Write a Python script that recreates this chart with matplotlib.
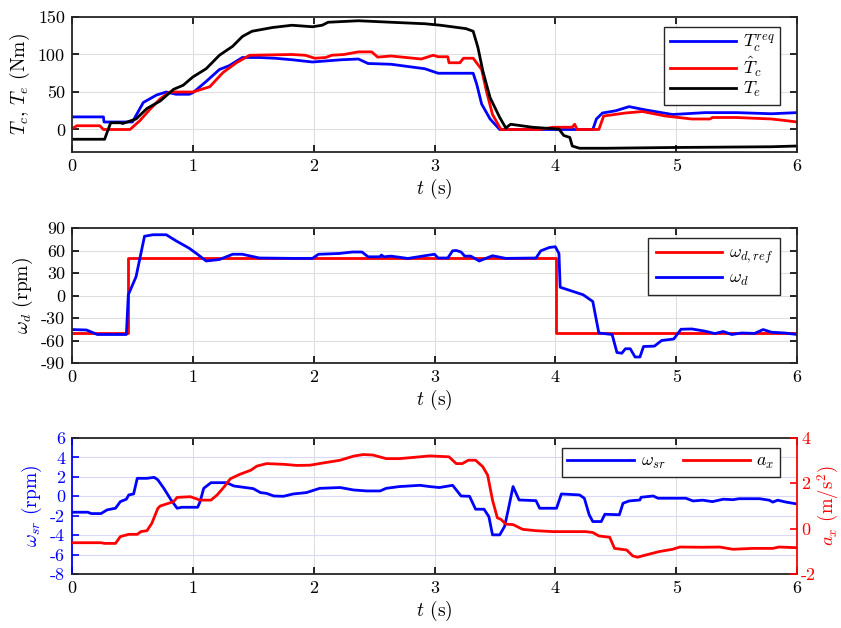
import matplotlib
matplotlib.use("Agg")
import matplotlib.pyplot as plt
from matplotlib.lines import Line2D

plt.rcParams['font.family'] = 'serif'
plt.rcParams['font.serif'] = ['cmr10']
plt.rcParams['mathtext.fontset'] = 'cm'
plt.rcParams['axes.unicode_minus'] = False
plt.rcParams['axes.formatter.use_mathtext'] = False

# ---- panel 1 : torques (Nm) ----
t_creq = [0, 0.26, 0.265, 0.50, 0.59, 0.70, 0.78, 0.86, 0.97, 1.0, 1.11, 1.22, 1.30, 1.41, 1.55, 1.68,
          1.82, 1.99, 2.23, 2.37, 2.45, 2.64, 2.78, 2.92, 3.03, 3.32, 3.35, 3.39, 3.46, 3.54, 4.31, 4.34,
          4.39, 4.50, 4.61, 4.75, 4.97, 5.24, 5.50, 5.79, 6.0]
T_creq = [16.8, 16.8, 10, 10, 36, 46, 50, 47, 47, 49, 64, 80, 85, 96, 96, 95,
          93, 90, 93, 94, 88, 87, 84, 81, 75, 75, 60, 34, 14, 0, 0, 14,
          22, 25, 30.5, 26, 20, 22.5, 22.5, 21, 22.5]

t_chat = [0, 0.04, 0.23, 0.26, 0.48, 0.56, 0.64, 0.73, 0.81, 1.0, 1.14, 1.25, 1.36, 1.47, 1.82, 1.93,
          2.01, 2.10, 2.15, 2.25, 2.37, 2.48, 2.53, 2.64, 2.89, 2.99, 3.03, 3.11, 3.12, 3.21, 3.24, 3.32,
          3.39, 3.43, 3.48, 3.55, 3.87, 3.98, 4.14, 4.16, 4.18, 4.36, 4.40, 4.58, 4.72, 4.91, 5.13, 5.28,
          5.30, 5.50, 5.79, 5.90, 6.0]
T_chat = [1, 5, 5, 0, 0, 11.5, 26, 41, 50, 50, 57, 76, 89, 99, 100, 99,
          95, 96, 99, 100, 103.5, 103.5, 96.5, 98, 94, 99, 97, 97, 89, 89, 95, 95,
          80, 51, 20, 0, 0, 3, 3, 7, 0, 0, 18, 22, 24, 18, 14, 14,
          16, 16, 14, 12, 10]

t_e = [0, 0.27, 0.29, 0.32, 0.40, 0.42, 0.53, 0.62, 0.73, 0.84, 0.92, 1.0, 1.11, 1.22, 1.33, 1.41,
       1.49, 1.66, 1.82, 1.99, 2.07, 2.12, 2.37, 2.64, 2.92, 3.05, 3.26, 3.32, 3.36, 3.40, 3.46, 3.54,
       3.59, 3.63, 3.81, 4.03, 4.07, 4.12, 4.14, 4.20, 4.42, 4.97, 5.79, 6.0]
T_e = [-13, -13, -4, 9, 9, 8, 14, 28, 38, 53.5, 59, 70, 81, 99, 111, 124,
       131, 136, 139, 137, 139, 143, 145, 143, 141, 139, 134.5, 131, 109, 78, 42.5, 16,
       2, 7, 3, 0.5, -8, -10.6, -22, -25, -25, -24, -23, -22]

# ---- panel 2 : differential speed (rpm) ----
t_dref = [0, 0.466, 0.466, 4.005, 4.005, 6.0]
w_dref = [-50, -50, 50, 50, -50, -50]

t_d = [0, 0.12, 0.21, 0.45, 0.466, 0.53, 0.60, 0.67, 0.78, 0.86, 0.97, 1.03, 1.11, 1.22, 1.33, 1.41,
       1.55, 1.82, 1.99, 2.04, 2.21, 2.32, 2.40, 2.45, 2.55, 2.56, 2.58, 2.64, 2.78, 2.92, 3.0, 3.03,
       3.11, 3.15, 3.18, 3.22, 3.25, 3.30, 3.37, 3.48, 3.59, 3.84, 3.88, 3.95, 4.0, 4.03, 4.04, 4.23,
       4.31, 4.36, 4.47, 4.51, 4.55, 4.58, 4.62, 4.66, 4.70, 4.73, 4.82, 4.88, 4.98, 5.04, 5.13, 5.24,
       5.32, 5.39, 5.46, 5.54, 5.65, 5.72, 5.79, 5.90, 6.0]
w_d = [-45.4, -46, -52, -52, 1, 25, 79, 81, 81, 73, 63, 56, 46, 48, 55, 55,
       50, 49.5, 49.5, 55, 56, 58, 58, 51.6, 51.6, 54, 51.6, 52.5, 49.4, 53, 55, 50,
       50, 59.6, 60, 58, 52.5, 52.5, 46, 53, 49.5, 50, 59.6, 64, 65, 56, 11, 1,
       -8, -50, -52, -76, -77, -71, -71, -82, -82, -68, -67.5, -60, -58, -45, -44.6, -47.6,
       -50.7, -48, -52, -50, -50.5, -45.4, -49, -50, -52]

# ---- panel 3 : slip speed (rpm) and acceleration (m/s^2) ----
t_sr = [0, 0.13, 0.16, 0.24, 0.29, 0.36, 0.40, 0.45, 0.47, 0.51, 0.54, 0.62, 0.68, 0.71, 0.76, 0.82,
        0.87, 0.91, 1.04, 1.06, 1.09, 1.15, 1.28, 1.34, 1.50, 1.56, 1.61, 1.67, 1.75, 1.83, 1.94, 2.05,
        2.22, 2.33, 2.44, 2.55, 2.60, 2.71, 2.88, 2.96, 3.04, 3.15, 3.22, 3.29, 3.34, 3.41, 3.45, 3.48,
        3.54, 3.58, 3.61, 3.65, 3.70, 3.84, 3.87, 4.01, 4.05, 4.20, 4.24, 4.28, 4.31, 4.38, 4.41, 4.53,
        4.56, 4.61, 4.70, 4.71, 4.81, 4.85, 5.08, 5.14, 5.22, 5.30, 5.39, 5.47, 5.52, 5.69, 5.77, 5.80,
        5.84, 5.91, 6.0]
w_sr = [-1.64, -1.64, -1.78, -1.78, -1.4, -1.23, -0.55, -0.3, 0.14, 0.24, 1.85, 1.85, 1.95, 1.7, 0.82, -0.38,
        -1.23, -1.13, -1.13, -0.55, 0.82, 1.4, 1.4, 1.06, 0.79, 0.38, 0.3, 0.03, 0.0, 0.24, 0.38, 0.82,
        0.9, 0.65, 0.55, 0.55, 0.82, 1.0, 1.13, 1.0, 0.9, 1.13, 0.03, 0.0, -1.33, -1.33, -2.1, -3.97,
        -3.97, -3.1, -1.4, 1.0, -0.38, -0.45, -1.23, -1.23, 0.24, 0.14, -0.2, -1.9, -2.6, -2.6, -1.85, -1.9,
        -0.72, -0.48, -0.38, -0.1, 0.03, -0.2, -0.2, -0.48, -0.4, -0.55, -0.3, -0.35, -0.25, -0.25, -0.4, -0.6,
        -0.4, -0.6, -0.79]

t_ax = [0, 0.24, 0.27, 0.36, 0.40, 0.47, 0.54, 0.57, 0.62, 0.66, 0.71, 0.73, 0.84, 0.87, 0.98, 1.06,
        1.15, 1.20, 1.26, 1.31, 1.39, 1.48, 1.53, 1.61, 1.75, 1.86, 1.97, 2.08, 2.22, 2.33, 2.41, 2.49,
        2.60, 2.71, 2.88, 2.96, 3.12, 3.18, 3.23, 3.28, 3.34, 3.40, 3.44, 3.48, 3.52, 3.55, 3.59, 3.65,
        3.73, 3.84, 3.98, 4.25, 4.31, 4.36, 4.45, 4.49, 4.59, 4.64, 4.68, 4.75, 4.86, 4.97, 5.03, 5.22,
        5.36, 5.47, 5.63, 5.80, 5.85, 6.0]
a_x = [-0.62, -0.62, -0.65, -0.65, -0.35, -0.25, -0.25, -0.13, -0.09, 0.23, 0.89, 1.0, 1.19, 1.38, 1.41, 1.26,
       1.26, 1.48, 1.85, 2.2, 2.4, 2.58, 2.76, 2.87, 2.84, 2.79, 2.8, 2.9, 3.02, 3.2, 3.27, 3.25,
       3.09, 3.09, 3.17, 3.21, 3.17, 2.87, 2.87, 3.02, 3.02, 2.73, 2.36, 1.26, 0.48, 0.41, 0.2, 0.18,
       -0.03, -0.09, -0.13, -0.13, -0.17, -0.32, -0.38, -0.87, -0.94, -1.2, -1.26, -1.16, -1.01, -0.91, -0.81, -0.82,
       -0.81, -0.91, -0.87, -0.87, -0.81, -0.84]

W, H = 841, 628
fig = plt.figure(figsize=(W / 100, H / 100), dpi=100)

def box(y0, y1):
    return [72 / W, 1 - y1 / H, (797 - 72) / W, (y1 - y0) / H]

def style(ax, gridc='#dfdfdf'):
    ax.set_xlim(0, 6)
    ax.set_xticks([0, 1, 2, 3, 4, 5, 6])
    ax.grid(True, color=gridc, linewidth=0.8)
    ax.set_axisbelow(True)
    ax.tick_params(direction='in', top=True, right=True, labelsize=13, length=5, width=1.2, pad=5)
    for s in ax.spines.values():
        s.set_linewidth(1.3)
        s.set_color('#262626')
    ax.set_xlabel(r'$t$ (s)', fontsize=14, labelpad=2)

def legend(ax, *args, **kw):
    # legend box: 10 px below top, 17 px left of right edge
    h = ax.get_position().height * H
    leg = ax.legend(*args, loc='upper right', bbox_to_anchor=(1 - 17 / 725, 1 - 10 / h),
                    borderaxespad=0, fontsize=13, fancybox=False, edgecolor='#262626',
                    handlelength=3.7, handletextpad=0.35, framealpha=1, **kw)
    leg.get_frame().set_linewidth(1.0)
    return leg

lw = 2.0

# panel 1
ax1 = fig.add_axes(box(17, 152))
ax1.plot(t_creq, T_creq, color='blue', lw=lw, label=r'$T_c^{req}$')
ax1.plot(t_chat, T_chat, color='red', lw=lw, label=r'$\hat{T}_c$')
ax1.plot(t_e, T_e, color='black', lw=lw, label=r'$T_e$')
style(ax1)
ax1.set_ylim(-30, 150)
ax1.set_yticks([0, 50, 100, 150])
ax1.set_ylabel(r'$T_c$, $T_e$ (Nm)', fontsize=14)
legend(ax1, borderpad=0.3, labelspacing=0.05)

# panel 2
ax2 = fig.add_axes(box(228, 363))
ax2.plot(t_dref, w_dref, color='red', lw=lw, label=r'$\omega_{d,ref}$')
ax2.plot(t_d, w_d, color='blue', lw=lw, label=r'$\omega_d$')
style(ax2)
ax2.set_ylim(-90, 90)
ax2.set_yticks([-90, -60, -30, 0, 30, 60, 90])
ax2.set_ylabel(r'$\omega_d$ (rpm)', fontsize=14)
legend(ax2, borderpad=0.4, labelspacing=0.25)

# panel 3
ax3 = fig.add_axes(box(438, 574))
ax3.plot(t_sr, w_sr, color='blue', lw=lw)
style(ax3)
ax3.grid(True, axis='y', color='#d9d9f5', linewidth=0.8)
ax3.set_ylim(-8, 6)
ax3.set_yticks([-8, -6, -4, -2, 0, 2, 4, 6])
ax3.tick_params(axis='y', colors='blue', right=False)
ax3.spines['left'].set_color('blue')
ax3.spines['right'].set_visible(False)
ax3.set_ylabel(r'$\omega_{sr}$ (rpm)', fontsize=14, color='blue')

ax4 = ax3.twinx()
ax4.plot(t_ax, a_x, color='red', lw=lw)
ax4.set_ylim(-2, 4)
ax4.set_yticks([-2, 0, 2, 4])
ax4.tick_params(axis='y', direction='in', colors='red', labelsize=13, length=5, width=1.2, pad=3)
for s in ax4.spines.values():
    s.set_visible(False)
ax4.spines['right'].set_visible(True)
ax4.spines['right'].set_color('red')
ax4.spines['right'].set_linewidth(1.3)
ax4.set_ylabel(r'$a_x$ (m/s$^2$)', fontsize=13.5, color='red', labelpad=0)

handles = [Line2D([], [], color='blue', lw=lw), Line2D([], [], color='red', lw=lw)]
legend(ax4, handles, [r'$\omega_{sr}$', r'$a_x$'], ncol=2, borderpad=0.3, columnspacing=1.0)

fig.savefig('out.png', dpi=100, facecolor='white')
